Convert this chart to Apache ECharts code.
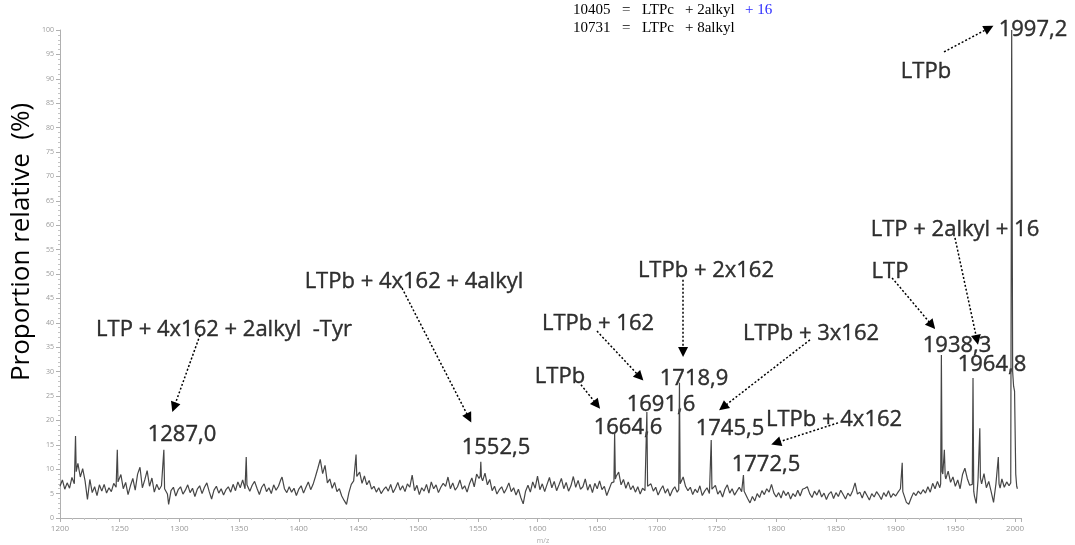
<!DOCTYPE html>
<html>
<head>
<meta charset="utf-8">
<script src="https://cdn.jsdelivr.net/npm/echarts@6/dist/echarts.min.js"></script>
<style>
  html, body { margin: 0; padding: 0; background: #fff; }
  #chart { width: 1075px; height: 545px; }
</style>
</head>
<body>
<div id="chart"></div>
<script>
// m/z positions and relative intensity (%)
const mz = [
  1200, 1202, 1204, 1206, 1208, 1210, 1212, 1212.6, 1213, 1213.6, 1215, 1217, 1219, 1221, 1223, 1225, 1227, 1229, 1231, 1233,
  1235, 1237, 1239, 1241, 1243, 1245, 1247, 1247.6, 1248, 1248.6, 1251, 1253, 1255, 1257, 1259, 1261, 1263, 1265, 1267, 1269,
  1271, 1273, 1275, 1277, 1279, 1281, 1283, 1285, 1286.5, 1287, 1287.6, 1290, 1291, 1293, 1295, 1297, 1299,
  1301, 1303, 1305, 1307, 1309, 1311, 1313, 1315, 1317, 1319, 1321, 1323, 1325, 1327, 1329, 1331, 1333, 1335, 1337, 1339,
  1341, 1343, 1345, 1347, 1349, 1351, 1353, 1355, 1355.6, 1356, 1356.6, 1359, 1361, 1363, 1365, 1367, 1369, 1371, 1373, 1375,
  1377, 1379, 1381, 1383, 1385, 1386, 1388, 1390, 1392, 1394, 1396, 1398,
  1400, 1402, 1404, 1406, 1408, 1410, 1412, 1414, 1416, 1418, 1420, 1422, 1424, 1426, 1428, 1430, 1432, 1434, 1436, 1438,
  1440, 1442, 1444, 1446, 1447.6, 1448, 1448.6, 1451, 1453, 1455, 1457, 1459, 1461, 1463, 1465, 1467, 1469, 1471, 1473, 1475,
  1477, 1479, 1481, 1483, 1485, 1487, 1489, 1491, 1493, 1495, 1497, 1499,
  1501, 1503, 1505, 1507, 1509, 1511, 1513, 1515, 1517, 1519, 1521, 1523, 1525, 1527, 1529, 1531, 1533, 1535, 1537, 1539,
  1541, 1543, 1545, 1547, 1549, 1551, 1552, 1552.5, 1553, 1554, 1556, 1558, 1560, 1562, 1564, 1566, 1568, 1570, 1572, 1574,
  1576, 1578, 1580, 1582, 1584, 1586, 1588, 1590, 1592, 1594, 1596, 1598,
  1600, 1602, 1604, 1606, 1608, 1610, 1612, 1614, 1616, 1618, 1620, 1622, 1624, 1626, 1628, 1630, 1632, 1634, 1636, 1638,
  1640, 1642, 1644, 1646, 1648, 1650, 1652, 1654, 1656, 1658, 1660, 1662, 1664, 1664.6, 1665.2, 1666, 1668, 1670, 1672, 1674,
  1676, 1678, 1680, 1682, 1684, 1686, 1688, 1690, 1691, 1691.6, 1692.2, 1693, 1695, 1697, 1699,
  1701, 1703, 1705, 1707, 1709, 1711, 1713, 1715, 1717, 1718.3, 1718.9, 1719.5, 1720, 1722, 1724, 1726, 1728, 1730, 1732, 1734,
  1736, 1738, 1740, 1742, 1744, 1744.9, 1745.5, 1746.1, 1747, 1749, 1751, 1753, 1755, 1757, 1759, 1761, 1763, 1765, 1767, 1769,
  1771, 1771.9, 1772.5, 1773.1, 1774, 1776, 1778, 1780, 1782, 1784, 1786, 1788, 1790, 1792, 1794, 1796, 1798, 1800,
  1802, 1804, 1806, 1808, 1810, 1812, 1814, 1816, 1818, 1820, 1822, 1824, 1826, 1828, 1830, 1832, 1834, 1836, 1838, 1840,
  1842, 1844, 1846, 1848, 1850, 1852, 1854, 1856, 1858, 1860, 1862, 1864, 1866, 1868, 1870, 1872, 1874, 1876, 1878, 1880,
  1882, 1884, 1886, 1888, 1890, 1892, 1894, 1896, 1898, 1900,
  1902, 1904, 1905, 1905.5, 1906, 1907, 1909, 1911, 1913, 1915, 1917, 1919, 1921, 1923, 1925, 1927, 1929, 1931, 1933, 1935,
  1937, 1937.7, 1938.3, 1938.9, 1939.5, 1940.8, 1941.5, 1942, 1944, 1946, 1948, 1950, 1952, 1954, 1956, 1958, 1960, 1962,
  1964.2, 1964.8, 1965.4, 1966, 1967.5, 1969, 1970, 1970.5, 1971, 1972, 1974, 1976, 1978, 1980, 1982, 1984, 1985.5, 1986,
  1986.6, 1987.5, 1989, 1991, 1993, 1995, 1996.4, 1997.2, 1998, 1998.8, 1999.6, 2000.6, 2001.4, 2002
];
const intensity = [
  6.5, 7.8, 5.9, 7.2, 6.1, 8.3, 7.0, 7.4, 16.8, 9.5, 11.2, 8.4, 10.1, 7.6, 3.8, 7.9, 5.2, 6.4, 4.6, 6.8,
  5.5, 6.9, 5.1, 6.2, 5.4, 7.1, 6.3, 6.6, 14.0, 7.4, 8.9, 6.0, 7.3, 4.8, 6.6, 8.1, 5.7, 9.0, 10.4, 6.2,
  7.8, 9.7, 6.5, 8.2, 5.3, 6.9, 5.8, 6.6, 6.2, 14.0, 6.0, 4.9, 2.8, 5.6, 6.3, 4.5, 5.8,
  6.4, 4.9, 5.7, 6.8, 5.2, 6.1, 4.4, 5.9, 6.6, 5.0, 6.3, 7.2, 5.4, 3.9, 5.7, 6.5, 5.1, 6.0, 4.7, 5.8,
  6.4, 5.3, 6.9, 5.6, 7.4, 6.2, 7.8, 6.0, 6.4, 12.5, 6.8, 5.5, 6.7, 7.5, 6.1, 4.8, 6.3, 7.0, 5.4, 6.2,
  5.0, 6.8, 5.7, 6.5, 7.9, 8.4, 6.0, 5.2, 6.4, 5.3, 6.1, 4.6,
  5.9, 6.6, 5.1, 6.3, 7.4, 5.8, 6.9, 8.5, 10.2, 12.0, 9.1, 10.8, 7.2, 8.0, 6.1, 7.3, 5.4, 6.0, 4.5, 3.6,
  2.8, 5.2, 6.9, 7.6, 7.9, 13.0, 8.5, 9.4, 7.1, 8.6, 6.8, 7.7, 5.9, 6.5, 5.3, 6.2, 5.0, 5.8, 6.4, 5.5,
  6.9, 5.2, 6.1, 7.3, 5.7, 6.6, 5.4, 7.0, 6.3, 8.8, 5.6, 6.7,
  4.8, 6.2, 5.5, 6.9, 5.1, 7.4, 6.0, 6.8, 5.2, 6.3, 7.1, 6.5, 8.4, 6.0, 7.2, 5.7, 6.4, 7.8, 5.9, 6.6,
  5.3, 7.0, 8.2, 6.4, 9.0, 8.1, 8.6, 11.5, 8.3, 7.6, 9.2, 6.8, 7.9, 5.6, 6.5, 4.9, 5.8, 6.4, 5.1, 6.0,
  7.2, 5.4, 6.2, 4.7, 5.9, 4.2, 2.9, 5.5, 6.7, 5.3, 7.4, 6.1,
  8.6, 5.8, 7.0, 5.4, 6.9, 8.3, 6.2, 7.5, 5.6, 6.8, 8.1, 6.0, 7.3, 5.5, 6.6, 8.5, 6.3, 7.7, 5.9, 6.4,
  8.0, 5.7, 6.9, 5.2, 7.1, 6.0, 7.6, 5.8, 6.5, 4.6, 5.9, 7.2, 7.4, 17.4, 8.0, 8.6, 9.4, 6.8, 7.9, 6.1,
  7.4, 5.8, 6.6, 5.3, 6.4, 4.9, 6.1, 5.6, 5.9, 21.7, 6.5, 6.2, 7.0, 5.5, 6.3,
  4.7, 5.8, 6.6, 5.1, 6.0, 4.5, 5.7, 6.4, 5.3, 5.8, 27.7, 7.0, 7.2, 8.4, 6.5, 5.6, 6.3, 4.8, 5.9, 5.2,
  6.6, 4.6, 5.5, 6.2, 5.0, 5.4, 16.0, 5.9, 5.8, 6.7, 4.9, 5.6, 4.3, 5.9, 6.8, 5.1, 6.0, 4.7, 5.5, 6.3,
  5.4, 5.7, 8.8, 5.5, 5.2, 4.0, 3.1, 4.4, 3.5, 5.0, 4.2, 5.6, 4.8, 6.0, 5.3, 6.9, 5.1, 4.3,
  5.2, 4.1, 5.6, 4.6, 5.3, 3.9, 5.0, 4.4, 5.7, 4.5, 5.9, 6.1, 6.4, 5.0, 4.2, 5.5, 4.7, 5.8, 4.3, 5.1,
  3.8, 4.9, 5.4, 4.0, 5.2, 4.4, 5.7, 4.8, 3.9, 5.1, 4.5, 5.6, 7.2, 4.9, 5.3, 4.1, 5.5, 4.6, 3.7, 5.0,
  4.3, 5.4, 4.7, 3.8, 5.2, 4.4, 5.6, 4.2, 5.0, 4.5,
  5.3, 6.0, 5.6, 11.3, 5.4, 5.0, 3.2, 2.8, 4.1, 5.2, 4.6, 5.5, 4.9, 5.8, 5.1, 6.4, 5.3, 7.1, 6.0, 7.5,
  6.2, 7.0, 33.4, 9.5, 9.0, 14.0, 8.6, 8.0, 9.6, 7.3, 8.4, 6.5, 7.8, 6.0, 8.9, 10.2, 8.1, 6.7,
  6.9, 28.7, 5.5, 4.5, 3.0, 7.8, 8.0, 18.4, 8.2, 7.0, 9.1, 6.2, 7.5, 5.4, 3.2, 7.0, 7.3, 12.5,
  7.0, 6.1, 8.0, 6.3, 7.4, 6.6, 7.2, 100, 30.0, 27.0, 26.0, 9.0, 6.5, 6.0
];

const xTicks = { min: 1200, max: 2005, step: 50 };
const yTicks = { min: 0, max: 100, step: 5 };

// annotation texts, placed in data units (m/z, %)
const noteText = [
  '1997,2', 'LTPb', 'LTP + 2alkyl + 16', 'LTP', '1938,3', '1964,8',
  'LTPb + 2x162', 'LTPb + 162', 'LTPb', '1718,9', '1691,6', '1664,6', '1745,5',
  'LTPb + 3x162', 'LTPb + 4x162', '1772,5', '1552,5', 'LTPb + 4x162 + 4alkyl',
  'LTP + 4x162 + 2alkyl  -Tyr', '1287,0'
];
const noteAt = [
  [2015.0, 100.0], [1925.4, 91.4], [1949.7, 59.0], [1895.3, 50.4], [1951.4, 35.2], [1980.7, 31.4],
  [1741.1, 50.6], [1650.7, 39.8], [1618.8, 28.9], [1731.1, 28.5], [1703.4, 23.2], [1675.8, 18.4], [1761.2, 18.2],
  [1829.1, 37.7], [1848.4, 20.1], [1791.4, 10.9], [1565.2, 14.5], [1496.5, 48.4],
  [1337.4, 38.5], [1302.2, 17.0]
];
// dotted arrows: [from, to] in data units
const arrows = [
  [[1940.5, 95.5], [1978.2, 100.4]],
  [[1949.7, 57.4], [1968.1, 36.5]],
  [[1897.0, 49.2], [1930.4, 39.5]],
  [[1721.9, 48.8], [1721.9, 34.0]],
  [[1649.8, 38.3], [1685.8, 28.9]],
  [[1636.4, 27.3], [1649.8, 23.2]],
  [[1828.2, 36.5], [1755.4, 22.7]],
  [[1851.7, 19.5], [1799.8, 15.4]],
  [[1486.5, 47.1], [1542.6, 20.5]],
  [[1317.3, 37.5], [1295.5, 22.7]]
];

const chart = echarts.init(document.getElementById('chart'), null, { renderer: 'canvas' });

const serif = 'Liberation Serif, DejaVu Serif, serif';
const sans = 'Open Sans, Noto Sans, sans-serif';

// small helper for the two-line legend in the top middle
function headerText(text, x, y, fill) {
  return {
    type: 'text', x, y,
    style: { text, font: '15px ' + serif, fill: fill || '#000', textVerticalAlign: 'middle' }
  };
}

const option = {
  animation: false,
  grid: { left: 60, right: 54, top: 30, bottom: 27 },
  xAxis: {
    type: 'value',
    min: xTicks.min,
    max: xTicks.max,
    interval: xTicks.step,
    axisLine: { lineStyle: { color: '#b0b0b0', width: 1 } },
    axisTick: { length: 4, lineStyle: { color: '#b0b0b0' } },
    minorTick: { show: true, splitNumber: 5, length: 2, lineStyle: { color: '#c4c4c4' } },
    axisLabel: {
      fontSize: 8, color: '#9a9a9a', margin: 7, showMaxLabel: false, fontFamily: sans,
      formatter: v => String(v)
    },
    splitLine: { show: false }
  },
  yAxis: {
    type: 'value',
    min: yTicks.min,
    max: yTicks.max,
    interval: yTicks.step,
    axisLine: { show: true, lineStyle: { color: '#b0b0b0', width: 1 } },
    axisTick: { show: true, length: 4, lineStyle: { color: '#b0b0b0' } },
    minorTick: { show: true, splitNumber: 5, length: 2, lineStyle: { color: '#c4c4c4' } },
    axisLabel: { fontSize: 7, color: '#9a9a9a', margin: 6, fontFamily: sans },
    splitLine: { show: false }
  },
  series: [
    {
      type: 'line',
      data: mz.map((m, i) => [m, intensity[i]]),
      showSymbol: false,
      symbol: 'none',
      lineStyle: { color: '#464646', width: 1.2 },
      silent: true
    },
    {
      type: 'lines',
      coordinateSystem: 'cartesian2d',
      clip: false,
      silent: true,
      symbol: ['none', 'triangle'],
      symbolSize: [10, 10],
      lineStyle: { color: '#000', width: 1.5, type: [2, 2], opacity: 1 },
      data: arrows.map(a => ({ coords: a }))
    },
    {
      type: 'scatter',
      clip: false,
      silent: true,
      symbolSize: 1,
      itemStyle: { color: 'rgba(0,0,0,0)' },
      label: {
        show: true,
        position: 'inside',
        fontFamily: sans,
        fontSize: 22,
        color: '#000',
        textBorderColor: '#000',
        textBorderWidth: 0.4,
        formatter: p => noteText[p.dataIndex]
      },
      data: noteAt
    }
  ],
  graphic: [
    {
      type: 'text',
      x: 22, y: 242,
      rotation: Math.PI / 2,
      style: {
        text: 'Proportion relative  (%)',
        font: '26px ' + sans,
        fill: '#000',
        textAlign: 'center',
        textVerticalAlign: 'middle'
      }
    },
    { type: 'text', x: 543, y: 541, style: { text: 'm/z', font: '7px ' + sans, fill: '#aaa', textAlign: 'center', textVerticalAlign: 'middle' } },
    headerText('10405', 573, 10),
    headerText('=', 622, 10),
    headerText('LTPc', 642, 10),
    headerText('+ 2alkyl', 685, 10),
    headerText('+ 16', 745, 10, '#2b2bff'),
    headerText('10731', 573, 28),
    headerText('=', 622, 28),
    headerText('LTPc', 642, 28),
    headerText('+ 8alkyl', 685, 28)
  ]
};

chart.setOption(option);
</script>
</body>
</html>
